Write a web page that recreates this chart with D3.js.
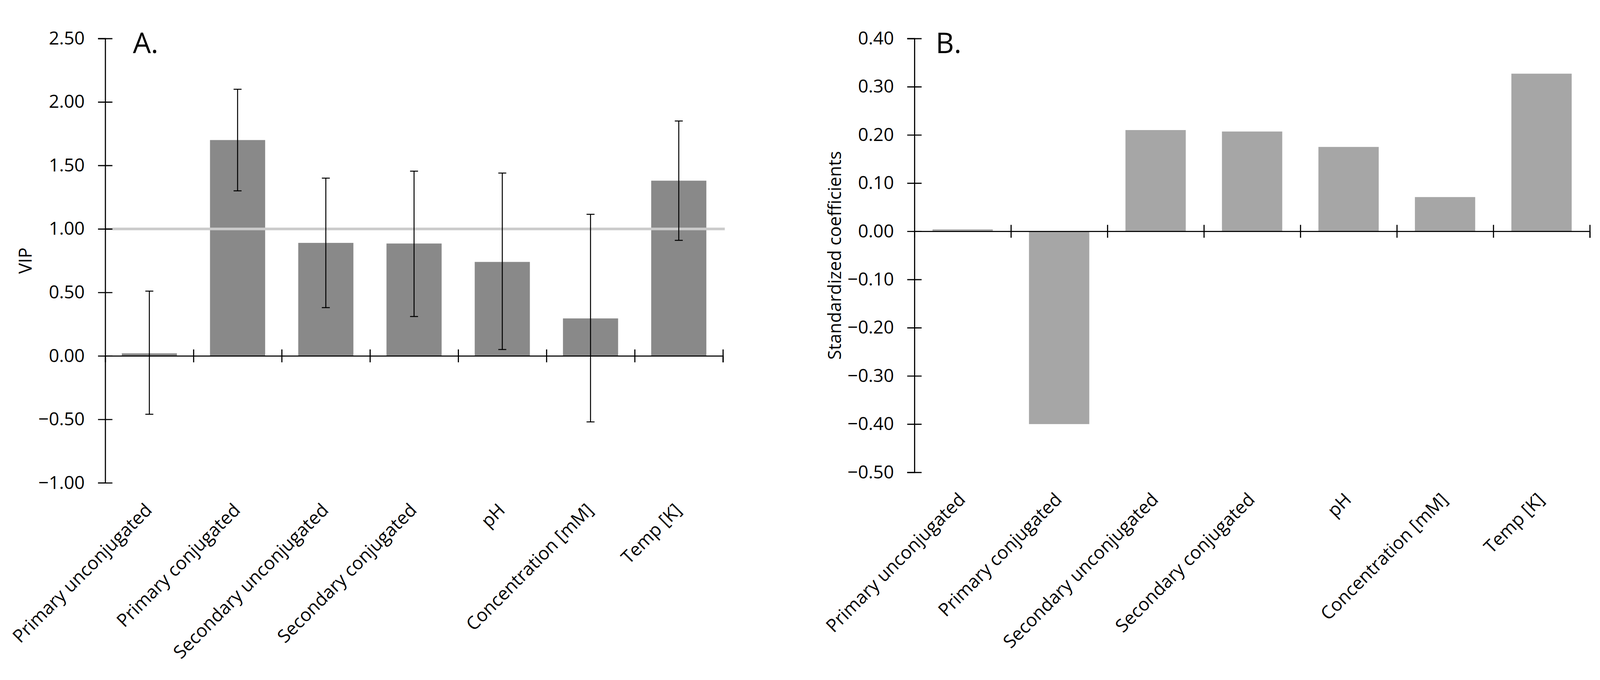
<!DOCTYPE html>
<meta charset="utf-8">
<style>
  html, body { margin: 0; padding: 0; background: #fff; overflow: hidden; }
  svg { display: block; width: 100vw; height: 100vh; }
  text { font-family: "Open Sans", sans-serif; fill: #000; }
</style>
<svg id="fig" viewBox="0 0 4223 1741" preserveAspectRatio="xMidYMid meet"></svg>
<script src="https://d3js.org/d3.v7.min.js"></script>
<script>

var categories = ["Primary unconjugated", "Primary conjugated", "Secondary unconjugated",
	"Secondary conjugated", "pH", "Concentration [mM]", "Temp [K]"];

// panel A: VIP with error bars
var vip     = [0.02, 1.70, 0.89, 0.885, 0.74, 0.295, 1.38];
var vipLow  = [-0.46, 1.30, 0.38, 0.31, 0.05, -0.52, 0.91];
var vipHigh = [0.51, 2.10, 1.40, 1.455, 1.44, 1.115, 1.85];
var vipTicks = [-1, -0.5, 0, 0.5, 1, 1.5, 2, 2.5];
var vipThreshold = 1;

// panel B: standardized coefficients
var coef = [0.004, -0.40, 0.21, 0.207, 0.175, 0.071, 0.327];
var coefTicks = [-0.5, -0.4, -0.3, -0.2, -0.1, 0, 0.1, 0.2, 0.3, 0.4];

var svg = d3.select("svg#fig");
var fmt = d3.format(".2f");

function panel(opt) {
	var g = svg.append("g");

	var x = d3.scaleBand()
		.domain(categories)
		.range([opt.x0, opt.x1])
		.paddingInner(0.375)
		.paddingOuter(0.1875);

	var y = d3.scaleLinear()
		.domain(opt.domain)
		.range([opt.yBottom, opt.yTop]);

	var rows = categories.map(function(c, i) {
		return { cat: c, v: opt.values[i], lo: opt.low ? opt.low[i] : null, hi: opt.high ? opt.high[i] : null };
	});

	// bars
	g.append("g").selectAll("rect")
		.data(rows)
		.enter().append("rect")
			.attr("x", function(d) { return x(d.cat); })
			.attr("width", x.bandwidth())
			.attr("y", function(d) { return y(Math.max(0, d.v)); })
			.attr("height", function(d) { return Math.abs(y(d.v) - y(0)); })
			.attr("fill", opt.color);

	// reference line
	if (opt.threshold != null) {
		g.append("line")
			.attr("x1", opt.x0).attr("x2", opt.x1 + 5)
			.attr("y1", y(opt.threshold)).attr("y2", y(opt.threshold))
			.attr("stroke", "#cbcbcb")
			.attr("stroke-width", 7);
	}

	// error bars
	if (opt.low) {
		var eb = g.append("g").selectAll("g")
			.data(rows)
			.enter().append("g")
				.attr("stroke", "#000")
				.attr("stroke-width", 2.6);
		eb.append("line")
			.attr("x1", function(d) { return x(d.cat) + x.bandwidth() / 2; })
			.attr("x2", function(d) { return x(d.cat) + x.bandwidth() / 2; })
			.attr("y1", function(d) { return y(d.lo); })
			.attr("y2", function(d) { return y(d.hi); });
		["lo", "hi"].forEach(function(k) {
			eb.append("line")
				.attr("x1", function(d) { return x(d.cat) + x.bandwidth() / 2 - 10.5; })
				.attr("x2", function(d) { return x(d.cat) + x.bandwidth() / 2 + 10.5; })
				.attr("y1", function(d) { return y(d[k]); })
				.attr("y2", function(d) { return y(d[k]); });
		});
	}

	// y axis with crossing ticks
	var ya = g.append("g")
		.attr("transform", "translate(" + opt.x0 + ",0)")
		.call(d3.axisLeft(y).tickValues(opt.ticks).tickFormat(fmt).tickSizeOuter(0).tickSize(19).tickPadding(35));
	ya.select(".domain").attr("stroke-width", 3);
	ya.selectAll(".tick line").attr("x1", 19).attr("x2", -19).attr("stroke-width", 3);
	ya.selectAll(".tick text")
		.style("font-family", "'Open Sans', sans-serif")
		.style("font-size", "48px")
		.attr("fill", "#000");

	// x axis at zero, ticks on category boundaries
	var xi = d3.scaleLinear().domain([0, categories.length]).range([opt.x0, opt.x1]);
	var xa = g.append("g")
		.attr("transform", "translate(0," + y(0) + ")")
		.call(d3.axisBottom(xi).tickValues(d3.range(1, categories.length + 1)).tickFormat("").tickSizeOuter(0).tickSize(17));
	xa.select(".domain").attr("stroke-width", 3);
	xa.selectAll(".tick line").attr("y1", -17).attr("y2", 17).attr("stroke-width", 3);

	// category labels below the plot
	var ca = g.append("g")
		.attr("transform", "translate(0," + opt.yBottom + ")")
		.call(d3.axisBottom(x).tickSize(0));
	ca.select(".domain").remove();
	ca.selectAll(".tick text")
		.attr("x", 0).attr("y", 0).attr("dy", 0)
		.attr("text-anchor", "end")
		.attr("transform", "translate(10,75) rotate(-45)")
		.style("font-family", "'Open Sans', sans-serif")
		.style("font-size", "48px")
		.attr("fill", "#000");

	// axis title
	g.append("text")
		.attr("transform", "translate(" + opt.titleX + "," + ((opt.yTop + opt.yBottom) / 2) + ") rotate(-90)")
		.attr("text-anchor", "middle")
		.style("font-size", "47px")
		.text(opt.title);

	// panel letter
	g.append("text")
		.attr("x", opt.x0 + opt.letterDx)
		.attr("y", 113)
		.style("font-size", "75px")
		.text(opt.letter);
}

panel({
	x0: 277.7, x1: 1908, yTop: 74.6, yBottom: 1247.5,
	domain: [-1, 2.5], ticks: vipTicks,
	values: vip, low: vipLow, high: vipHigh, threshold: vipThreshold,
	color: "#898989", title: "VIP", titleX: 84, letter: "A.", letterDx: 73
});

panel({
	x0: 2413.5, x1: 4196, yTop: 74.6, yBottom: 1219.7,
	domain: [-0.5, 0.4], ticks: coefTicks,
	values: coef, threshold: null,
	color: "#a6a6a6", title: "Standardized coefficients", titleX: 2220, letter: "B.", letterDx: 56
});

</script>
